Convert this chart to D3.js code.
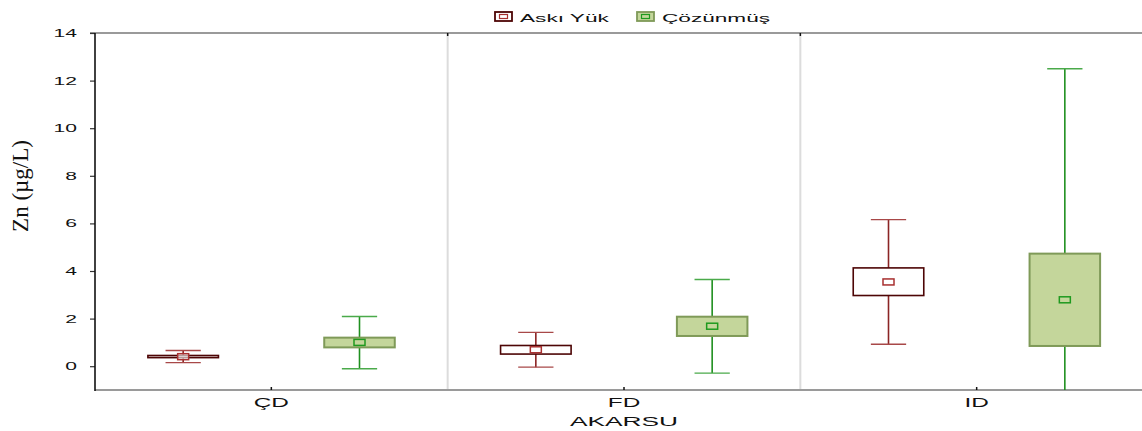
<!DOCTYPE html>
<html>
<head>
<meta charset="utf-8">
<script src="https://cdn.jsdelivr.net/npm/d3@7"></script>
<style>
  html, body { margin: 0; padding: 0; background: #fff; }
  svg { display: block; }
</style>
</head>
<body>
<svg id="chart" width="1142" height="431"></svg>
<script>
// Zn concentrations by stream (AKARSU): suspended load vs dissolved
const categories = ["ÇD", "FD", "ID"];
const seriesNames = ["Askı Yük", "Çözünmüş"];

// Askı Yük (suspended): whisker low, box low, mean, box high, whisker high
const askiLow   = [0.15, -0.04, 0.92];
const askiQ1    = [0.36, 0.51, 2.97];
const askiMean  = [0.40, 0.69, 3.54];
const askiQ3    = [0.45, 0.87, 4.13];
const askiHigh  = [0.66, 1.42, 6.16];

// Çözünmüş (dissolved)
const cozLow    = [-0.11, -0.29, -6.9];
const cozQ1     = [0.79, 1.27, 0.85];
const cozMean   = [1.00, 1.68, 2.79];
const cozQ3     = [1.20, 2.08, 4.73];
const cozHigh   = [2.09, 3.64, 12.5];

const yTicks = [0, 2, 4, 6, 8, 10, 12, 14];

const styles = [
  { box: "#4d0505", boxWidth: 1.6, fill: "#ffffff", whisker: "#8b2424", cap: "#a84848", mean: "#a83030", meanFill: "#ffffff" },
  { box: "#7f9a58", boxWidth: 2, fill: "#c4d69b", whisker: "#209020", cap: "#4aaa4a", mean: "#1f9a1f", meanFill: "#c4d69b" }
];

const series = [
  { name: seriesNames[0], low: askiLow, q1: askiQ1, mean: askiMean, q3: askiQ3, high: askiHigh },
  { name: seriesNames[1], low: cozLow, q1: cozQ1, mean: cozMean, q3: cozQ3, high: cozHigh }
];

const svg = d3.select("#chart");
const plotLeft = 95, plotTop = 33, plotBottom = 390, plotRight = 1153;
const SX = 1.95; // horizontal stretch of the sans-serif labels

const x = d3.scaleBand().domain(categories).range([plotLeft, plotRight]);
const sub = d3.scaleBand().domain(seriesNames).range([0, x.bandwidth()]);
const y = d3.scaleLinear().domain([-1, 14]).range([plotBottom, plotTop]);

const boxW = x.bandwidth() * 0.2;
const capW = x.bandwidth() * 0.1;

function wideText(g, tx, ty, str, size, anchor) {
  return g.append("text")
    .attr("transform", `translate(${tx},${ty}) scale(${SX},1)`)
    .attr("text-anchor", anchor)
    .attr("font-family", "Liberation Sans, Arial, sans-serif")
    .attr("font-size", size)
    .attr("fill", "#111")
    .text(str);
}

// clip for marks
svg.append("defs").append("clipPath").attr("id", "plot")
  .append("rect").attr("x", plotLeft).attr("y", plotTop)
  .attr("width", plotRight - plotLeft).attr("height", plotBottom - plotTop);

// category dividers
svg.append("g").selectAll("line")
  .data(categories.slice(1))
  .join("line")
  .attr("x1", d => x(d)).attr("x2", d => x(d))
  .attr("y1", plotTop).attr("y2", plotBottom)
  .attr("stroke", "#dcdcdc").attr("stroke-width", 2);

// top frame & bottom axis line
svg.append("line").attr("x1", 90).attr("x2", plotRight).attr("y1", plotTop).attr("y2", plotTop)
  .attr("stroke", "#9a9a9a").attr("stroke-width", 2);
svg.append("line").attr("x1", plotLeft).attr("x2", plotRight).attr("y1", plotBottom).attr("y2", plotBottom)
  .attr("stroke", "#9a9a9a").attr("stroke-width", 2);

// small black ticks at divider tops and category centres
svg.append("g").selectAll("line")
  .data(categories.slice(1))
  .join("line")
  .attr("x1", d => x(d)).attr("x2", d => x(d))
  .attr("y1", plotTop).attr("y2", plotTop + 3)
  .attr("stroke", "#111").attr("stroke-width", 1.5);
svg.append("g").selectAll("line")
  .data(categories)
  .join("line")
  .attr("x1", d => x(d) + x.bandwidth() / 2).attr("x2", d => x(d) + x.bandwidth() / 2)
  .attr("y1", plotBottom - 3).attr("y2", plotBottom)
  .attr("stroke", "#111").attr("stroke-width", 1.5);

// y axis
const yAxis = d3.axisLeft(y).tickValues(yTicks).tickSize(5).tickFormat("");
const yg = svg.append("g").attr("transform", `translate(${plotLeft},0)`).call(yAxis);
yg.select(".domain").remove();
yg.selectAll(".tick line").attr("stroke", "#333").attr("stroke-width", 1.2);
svg.append("line").attr("x1", plotLeft).attr("x2", plotLeft).attr("y1", plotTop).attr("y2", plotBottom + 1)
  .attr("stroke", "#111").attr("stroke-width", 1.6);
yTicks.forEach(t => wideText(svg, 77, y(t) + 4, String(t), 10.8, "end"));

// x tick labels
categories.forEach(c => wideText(svg, x(c) + x.bandwidth() / 2, 407, c, 12.5, "middle"));
wideText(svg, x("FD") + x.bandwidth() / 2, 426, "AKARSU", 13.5, "middle");

// y axis title
svg.append("text")
  .attr("transform", `translate(28,186) rotate(-90)`)
  .attr("text-anchor", "middle")
  .attr("font-family", "Liberation Serif, Times New Roman, serif")
  .attr("font-size", 23)
  .attr("fill", "#111")
  .text("Zn (µg/L)");

// boxes
const marks = svg.append("g").attr("clip-path", "url(#plot)");
series.forEach((s, si) => {
  const st = styles[si];
  const g = marks.append("g");
  categories.forEach((c, i) => {
    const cx = x(c) + sub(s.name) + sub.bandwidth() / 2;
    // whisker stem
    g.append("line").attr("x1", cx).attr("x2", cx)
      .attr("y1", y(s.high[i])).attr("y2", y(s.low[i]))
      .attr("stroke", st.whisker).attr("stroke-width", 1.6);
    // caps
    [s.high[i], s.low[i]].forEach(v => {
      g.append("line").attr("x1", cx - capW / 2).attr("x2", cx + capW / 2)
        .attr("y1", y(v)).attr("y2", y(v))
        .attr("stroke", st.cap).attr("stroke-width", 1.4);
    });
    // box
    g.append("rect")
      .attr("x", cx - boxW / 2).attr("width", boxW)
      .attr("y", y(s.q3[i])).attr("height", y(s.q1[i]) - y(s.q3[i]))
      .attr("fill", st.fill).attr("stroke", st.box).attr("stroke-width", st.boxWidth);
    // mean marker
    g.append("rect")
      .attr("x", cx - 5.5).attr("width", 11)
      .attr("y", y(s.mean[i]) - 3).attr("height", 6)
      .attr("fill", st.meanFill).attr("fill-opacity", 0.6)
      .attr("stroke", st.mean).attr("stroke-width", 1.5);
  });
});

// legend
const legendX = [495, 637];
series.forEach((s, si) => {
  const st = styles[si];
  const lx = legendX[si];
  svg.append("rect").attr("x", lx).attr("y", 12).attr("width", 17).attr("height", 9)
    .attr("fill", st.fill).attr("stroke", st.box).attr("stroke-width", 1.8);
  svg.append("rect").attr("x", lx + 4.5).attr("y", 14.5).attr("width", 8).attr("height", 4)
    .attr("fill", st.meanFill).attr("stroke", st.mean).attr("stroke-width", 1.2);
  wideText(svg, lx + 25, 22, s.name, 11.6, "start");
});
</script>
</body>
</html>
